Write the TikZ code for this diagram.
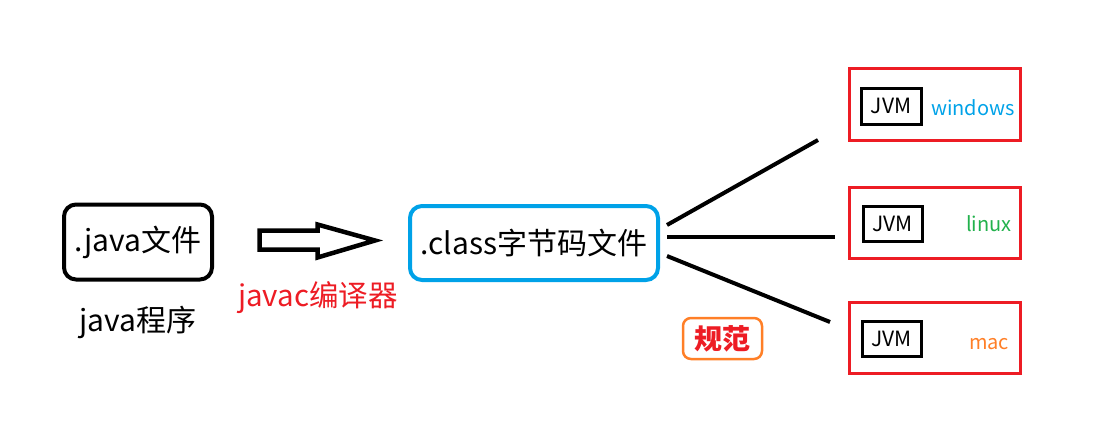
\documentclass[tikz,border=0pt]{standalone}
\usepackage{fontspec}
\setmainfont{Noto Sans CJK SC}

\definecolor{pred}{RGB}{237,28,36}
\definecolor{pblue}{RGB}{0,162,232}
\definecolor{pgreen}{RGB}{34,177,76}
\definecolor{porange}{RGB}{255,127,39}

\tikzset{
	filebox/.style={draw, rounded corners=12pt, line width=4pt, inner sep=0pt},
	osbox/.style={draw=pred, line width=3pt, minimum width=171pt, minimum height=71pt},
	jvmbox/.style={draw, line width=3pt, inner sep=0pt, minimum width=59pt, minimum height=35pt, font=\fontsize{21}{25}\selectfont},
	ostext/.style={font=\fontsize{20}{24}\selectfont},
}

\begin{document}
\begin{tikzpicture}[x=1pt, y=-1pt]
		\useasboundingbox (0,0) rectangle (1094,434);
		\draw (138,242) node [filebox, minimum width=148pt, minimum height=75pt, font=\fontsize{30}{36}\selectfont] (java) {.java文件};
		\draw (138,322) node [font=\fontsize{30}{36}\selectfont] (prog) {java程序};
		% hollow arrow
		\draw[line width=4.5pt, line join=miter] (259.5,230.5) -- (317.5,230.5) -- (317.5,224.5) -- (375,240.5)
			-- (317.5,257.5) -- (317.5,249.5) -- (259.5,249.5) -- cycle;
		\draw (318,298) node [pred, font=\fontsize{29.5}{34}\selectfont] (javac) {javac编译器};
		\draw (534,243) node [filebox, pblue, text=black, minimum width=248pt, minimum height=74pt, font=\fontsize{30}{36}\selectfont] (cls) {.class字节码文件};
		\draw (722.5,338.5) node [draw=porange, rounded corners=8pt, line width=2.5pt, minimum width=79pt, minimum height=41pt, text=pred, font=\fontsize{28}{32}\selectfont\bfseries] (spec) {规范};

		\draw (934.5,104) node [osbox, minimum height=72pt] (win) {};
		\draw (934.5,222.5) node [osbox] (lin) {};
		\draw (934.5,337.5) node [osbox] (mac) {};
		\draw (891,106) node [jvmbox, minimum width=60pt, minimum height=36pt] (jvm1) {JVM};
		\draw (892.5,223.5) node [jvmbox] (jvm2) {JVM};
		\draw (891.5,338.5) node [jvmbox] (jvm3) {JVM};
		\draw (973,108) node [ostext, pblue] (wintext) {windows};
		\draw (989,224) node [ostext, pgreen] (lintext) {linux};
		\draw (989,344) node [ostext, porange] (mactext) {mac};

		\coordinate (to1) at (818,140);
		\coordinate (to2) at (835,237);
		\coordinate (to3) at (830,322);
		\path[line width=4pt]
			([xshift=7pt,yshift=18pt]cls.east) edge (to1)
			([xshift=7pt,yshift=6pt]cls.east) edge (to2)
			([xshift=7pt,yshift=-13pt]cls.east) edge (to3);
	\end{tikzpicture}
\end{document}
